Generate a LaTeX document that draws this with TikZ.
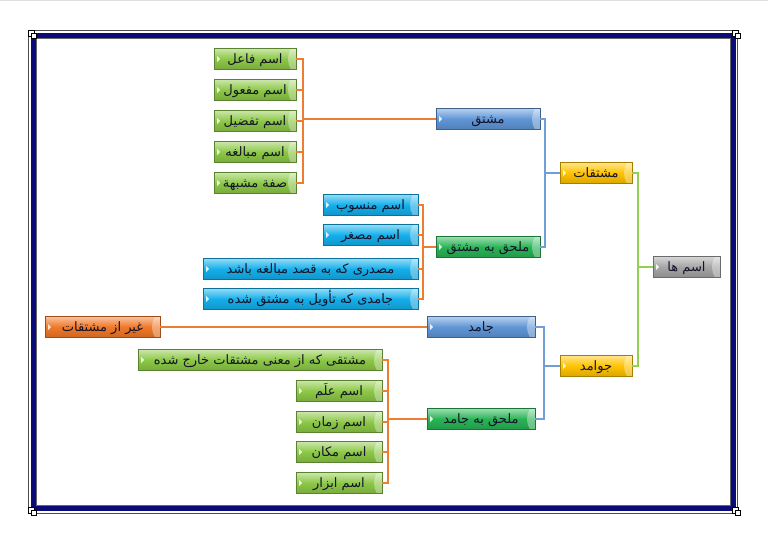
\documentclass[tikz,border=0pt]{standalone}
\usepackage{fontspec}
\usetikzlibrary{calc}
\TeXXeTstate=1
\newfontfamily\arabicfont[Script=Arabic]{DejaVu Sans}
\newcommand\fa[1]{{\arabicfont\beginR #1\endR}}
\definecolor{navyframe}{RGB}{10,10,120}
\definecolor{cgreen}{RGB}{140,200,70}
\definecolor{ccyan}{RGB}{20,175,235}
\definecolor{cblue}{RGB}{95,150,215}
\definecolor{cmid}{RGB}{40,180,85}
\definecolor{cyel}{RGB}{255,195,0}
\definecolor{cgray}{RGB}{165,165,165}
\definecolor{corange}{RGB}{240,120,40}
\definecolor{lgreen}{RGB}{146,208,80}
\definecolor{lblue}{RGB}{110,160,215}
\definecolor{lorange}{RGB}{237,125,49}
\definecolor{txt}{RGB}{20,20,40}
\tikzset{
  pill/.style={rectangle, draw=#1!65!black, line width=0.7pt,
    top color=#1!45!white, bottom color=#1!85!black, middle color=#1,
    minimum height=21pt, inner sep=0pt, text=txt,
    text height=11pt, text depth=2pt,
    font=\fontsize{13}{15}\selectfont,
    path picture={
      \coordinate (pne) at (path picture bounding box.north east);
      \coordinate (pse) at (path picture bounding box.south east);
      \coordinate (pw) at (path picture bounding box.west);
      \fill[white,opacity=0.35] ($(pne)+(-5pt,0)$) .. controls ($(pne)+(-9pt,-6pt)$) and ($(pse)+(-9pt,6pt)$) .. ($(pse)+(-5pt,0)$) -- (pse) -- (pne) -- cycle;
      \fill[white,opacity=0.85] ($(pw)+(3pt,3pt)$) -- ++(3pt,-3pt) -- ++(-3pt,-3pt) -- cycle;
    }},
  leafg/.style={pill=cgreen},
  leafc/.style={pill=ccyan},
  midb/.style={pill=cblue},
  midg/.style={pill=cmid},
  topy/.style={pill=cyel},
  rootg/.style={pill=cgray},
  orng/.style={pill=corange},
  gline/.style={draw=lgreen, line width=1.3pt},
  bline/.style={draw=lblue, line width=1.3pt},
  oline/.style={draw=lorange, line width=1.3pt},
}
\begin{document}
\begin{tikzpicture}[x=1pt,y=-1pt]
\useasboundingbox (0,0) rectangle (768,540);
\fill[gray!25] (0,0) rectangle (768,1.5);
% frame
\draw[black!70, line width=0.8pt] (28.8,30.8) rectangle (737.2,513.2);
\draw[navyframe, line width=5pt] (33,35.5) rectangle (733,508.5);
\draw[black!60, line width=0.6pt] (35.8,38.3) rectangle (730.2,505.7);
\foreach \cx/\cy in {31/33, 735/33, 31/510, 735/510}{
  \draw[black, fill=white, line width=0.6pt] (\cx-3,\cy-3) rectangle (\cx+3,\cy+3);
  \draw[black, fill=white, line width=0.6pt] (\cx,\cy) rectangle (\cx+5,\cy+5);
}
% nodes
\node[rootg, minimum width=67] (root) at (686.5,267) {\fa{اسم ها}};
\node[topy, minimum width=72] (mshtqat) at (596,173) {\fa{مشتقات}};
\node[topy, minimum width=72] (jawamed) at (596,366) {\fa{جوامد}};
\node[midb, minimum width=104] (moshtaq) at (488,119) {\fa{مشتق}};
\node[midg, minimum width=104] (molmosh) at (488,247) {\fa{ملحق به مشتق}};
\node[midb, minimum width=108] (jamed) at (481,327) {\fa{جامد}};
\node[midg, minimum width=108] (moljam) at (481,419) {\fa{ملحق به جامد}};
\node[leafg, minimum width=82] (l1) at (255,59) {\fa{اسم فاعل}};
\node[leafg, minimum width=82] (l2) at (255,90) {\fa{اسم مفعول}};
\node[leafg, minimum width=82] (l3) at (255,121) {\fa{اسم تفضیل}};
\node[leafg, minimum width=82] (l4) at (255,152) {\fa{اسم مبالغه}};
\node[leafg, minimum width=82] (l5) at (255,183) {\fa{صفة مشبهة}};
\node[leafc, minimum width=95] (c1) at (370.5,205) {\fa{اسم منسوب}};
\node[leafc, minimum width=95] (c2) at (370.5,235) {\fa{اسم مصغر}};
\node[leafc, minimum width=215] (c3) at (310.5,269) {\fa{مصدری که به قصد مبالغه باشد}};
\node[leafc, minimum width=215] (c4) at (310.5,299) {\fa{جامدی که تأویل به مشتق شده}};
\node[orng, minimum width=115] (ghayr) at (102.5,327) {\fa{غیر از مشتقات}};
\node[leafg, minimum width=244] (g1) at (260,360) {\fa{مشتقی که از معنی مشتقات خارج شده}};
\node[leafg, minimum width=86] (g2) at (339,391) {\fa{اسم علَم}};
\node[leafg, minimum width=86] (g3) at (339,422) {\fa{اسم زمان}};
\node[leafg, minimum width=86] (g4) at (339,452) {\fa{اسم مکان}};
\node[leafg, minimum width=86] (g5) at (339,483) {\fa{اسم ابزار}};
% junctions
\coordinate (j0) at (638,267);
\coordinate (j1) at (545,173);
\coordinate (j2) at (544,366);
\coordinate (j3) at (303,119);
\coordinate (j4) at (423,247);
\coordinate (j5) at (388,419);
% connectors
\draw[gline] (root.west) -- (j0);
\draw[gline] (mshtqat.east) -| (j0);
\draw[gline] (jawamed.east) -| (j0);
\draw[bline] (mshtqat.west) -- (j1);
\draw[bline] (moshtaq.east) -| (j1);
\draw[bline] (molmosh.east) -| (j1);
\draw[bline] (jawamed.west) -- (j2);
\draw[bline] (jamed.east) -| (j2);
\draw[bline] (moljam.east) -| (j2);
\draw[oline] (moshtaq.west) -- (j3);
\foreach \n in {l1,l2,l3,l4,l5}{\draw[oline] (\n.east) -| (j3);}
\draw[oline] (molmosh.west) -- (j4);
\foreach \n in {c1,c2,c3,c4}{\draw[oline] (\n.east) -| (j4);}
\draw[oline] (jamed.west) -- (ghayr.east);
\draw[oline] (moljam.west) -- (j5);
\foreach \n in {g1,g2,g3,g4,g5}{\draw[oline] (\n.east) -| (j5);}
\end{tikzpicture}
\end{document}
